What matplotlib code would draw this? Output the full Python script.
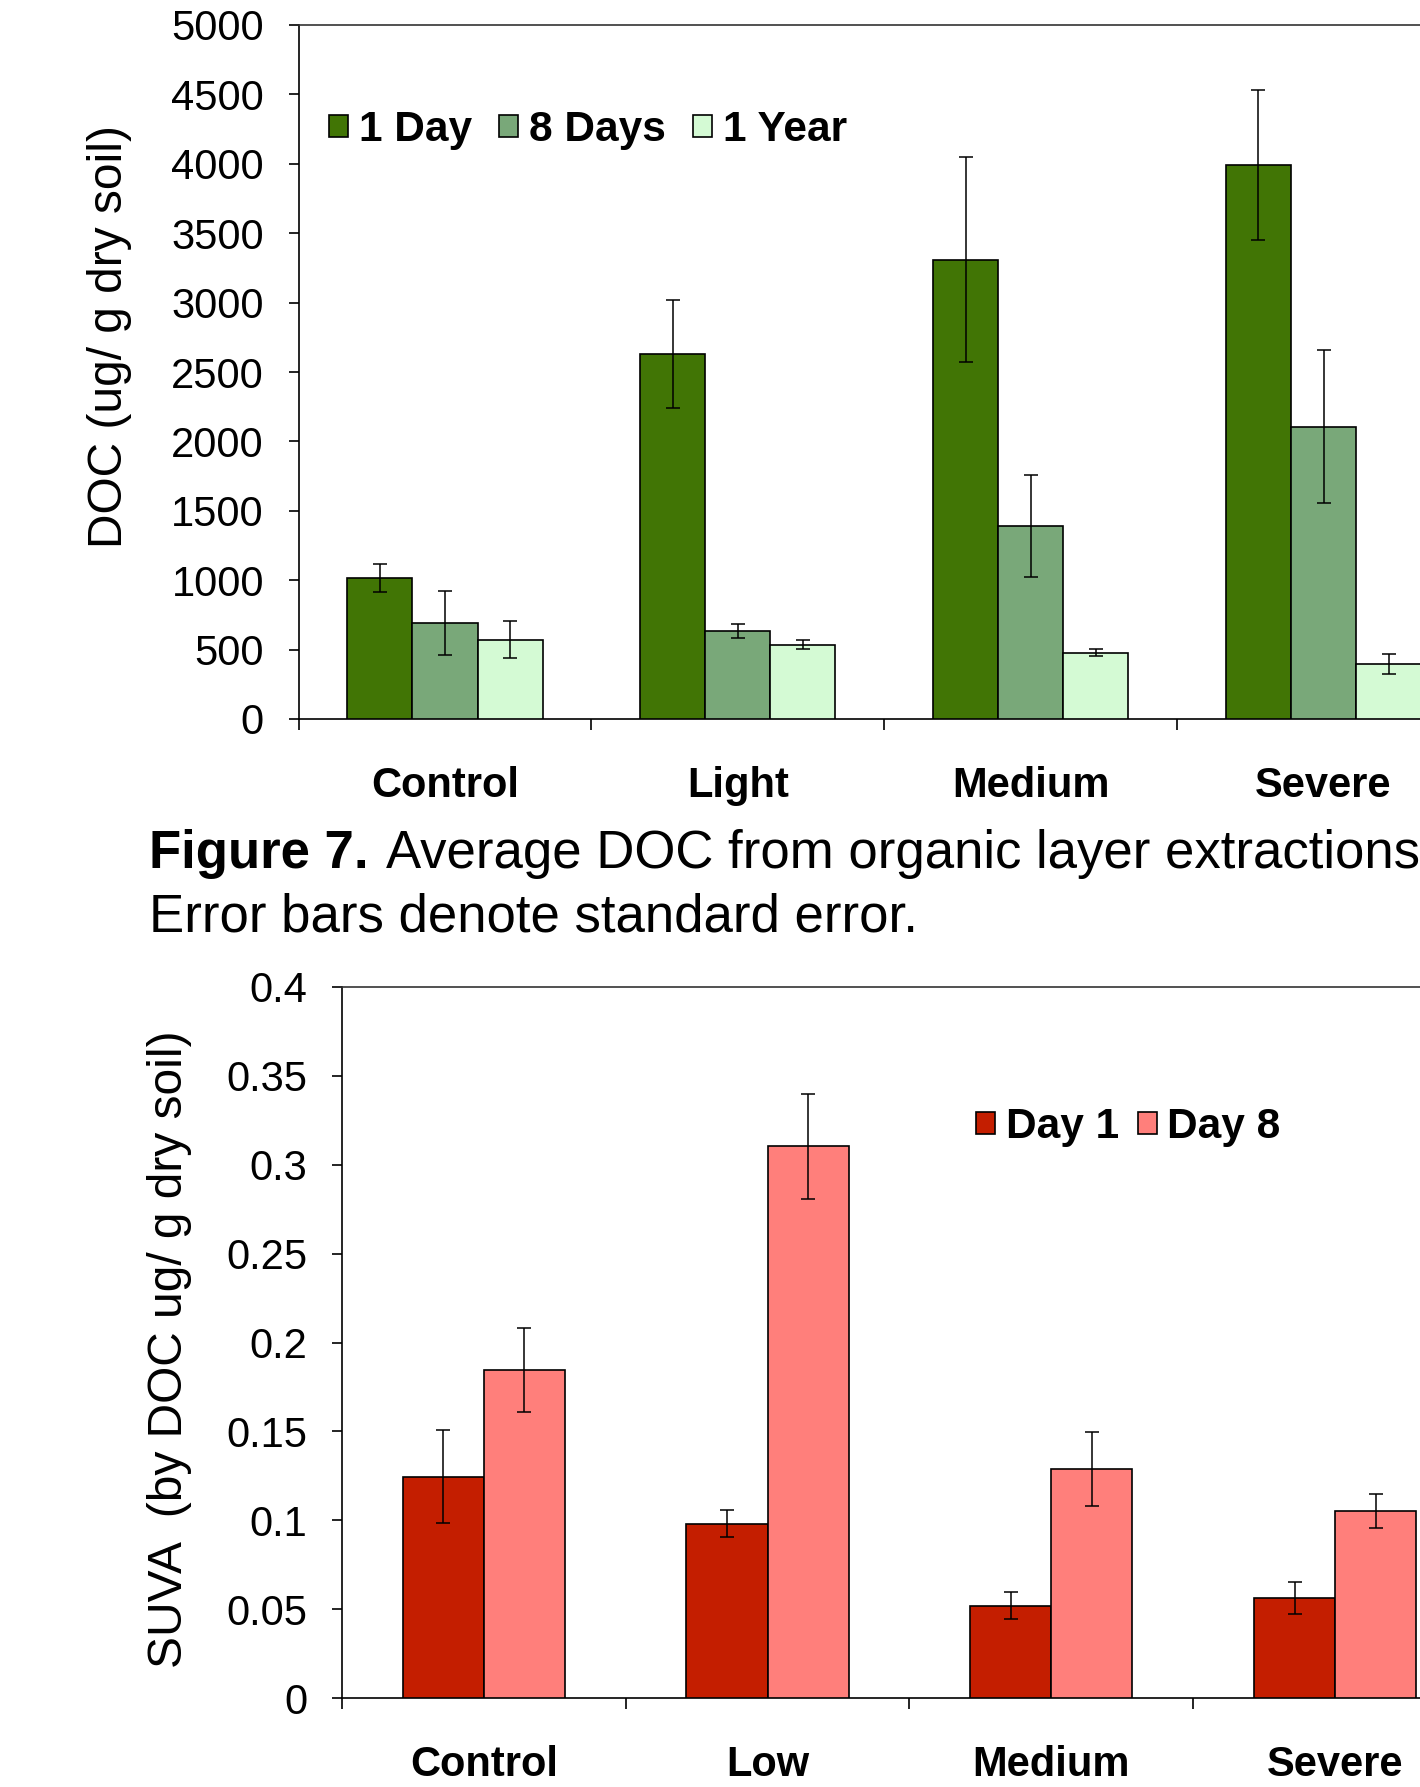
import matplotlib.pyplot as plt
import numpy as np
from matplotlib.ticker import FixedLocator, FuncFormatter, NullFormatter

plt.rcParams["font.family"] = ["Liberation Sans", "DejaVu Sans"]

# ---- data: DOC (top panel) ----
doc_categories = ["Control", "Light", "Medium", "Severe"]
doc_series = ["1 Day", "8 Days", "1 Year"]
doc_1day = [1015, 2630, 3310, 3990]
doc_8days = [690, 632, 1390, 2105]
doc_1year = [572, 534, 476, 394]
doc_1day_se = [100, 390, 740, 540]
doc_8days_se = [230, 50, 370, 550]
doc_1year_se = [135, 33, 25, 72]
doc_colors = ["#417505", "#79A879", "#D4FAD4"]

# ---- data: SUVA (bottom panel) ----
suva_categories = ["Control", "Low", "Medium", "Severe"]
suva_series = ["Day 1", "Day 8"]
suva_day1 = [0.1245, 0.098, 0.052, 0.0565]
suva_day8 = [0.1846, 0.3103, 0.1288, 0.1052]
suva_day1_se = [0.026, 0.0077, 0.0074, 0.009]
suva_day8_se = [0.0235, 0.0295, 0.021, 0.0093]
suva_colors = ["#C41E00", "#FF7F7B"]

W, H = 1420, 1787
fig = plt.figure(figsize=(W / 100, H / 100), dpi=100)


def fx(px):
    return px / W


def fy(py):
    return 1 - py / H


def style_axes(ax, ncat, ylim, yticks, fmt):
    ax.set_xlim(-0.5, ncat - 0.5)
    ax.set_ylim(*ylim)
    for s in ["left", "bottom"]:
        ax.spines[s].set_linewidth(1.2)
        ax.spines[s].set_color("black")
    ax.spines["top"].set_linewidth(1.2)
    ax.spines["top"].set_color("#333333")
    ax.spines["right"].set_linewidth(1.2)
    ax.spines["right"].set_color("#333333")
    ax.set_yticks(yticks)
    ax.yaxis.set_major_formatter(FuncFormatter(fmt))
    ax.tick_params(axis="y", direction="out", length=7, width=1.2, labelsize=30, pad=18)
    # category boundaries as ticks, names centred between them
    ax.xaxis.set_major_locator(FixedLocator(np.arange(ncat + 1) - 0.5))
    ax.xaxis.set_major_formatter(NullFormatter())
    ax.xaxis.set_minor_locator(FixedLocator(np.arange(ncat)))
    ax.tick_params(axis="x", which="major", direction="out", length=8, width=1.2)
    ax.tick_params(axis="x", which="minor", length=0, labelsize=30, pad=34)


def add_errbars(ax, x, y, e):
    ax.errorbar(x, y, yerr=e, fmt="none", ecolor="black", elinewidth=1.1,
                capsize=5, capthick=1.1, zorder=4)


# ---- top panel ----
ax1 = fig.add_axes([fx(298.6), fy(719), fx(1470 - 298.6), (719 - 25) / H])
x = np.arange(len(doc_categories))
w = 1 / 4.5
vals = [doc_1day, doc_8days, doc_1year]
errs = [doc_1day_se, doc_8days_se, doc_1year_se]
for k, (v, e, c, lab) in enumerate(zip(vals, errs, doc_colors, doc_series)):
    xs = x + (k - 1) * w
    ax1.bar(xs, v, width=w, color=c, edgecolor="black", linewidth=1.2, label=lab, zorder=3)
    add_errbars(ax1, xs, v, e)
style_axes(ax1, 4, (0, 5000), np.arange(0, 5001, 500), lambda v, p: f"{v:g}")
ax1.set_xticklabels(doc_categories, minor=True, fontweight="bold")
ax1.legend(loc="center left", bbox_to_anchor=(fx(329), fy(130)), bbox_transform=fig.transFigure,
           ncol=3, frameon=False, prop={"size": 30.5, "weight": "bold"},
           handlelength=0.45, handleheight=0.45, handletextpad=0.25, columnspacing=0.65,
           borderpad=0, borderaxespad=0)
fig.text(fx(110), fy(337), "DOC (ug/ g dry soil)", rotation=90, ha="center", va="center", fontsize=34.5)

# ---- caption ----
fig.text(fx(149), fy(854), "Figure 7.", fontsize=38, fontweight="bold", ha="left", va="center")
fig.text(fx(386), fy(854), "Average DOC from organic layer extractions.", fontsize=38, ha="left", va="center")
fig.text(fx(149), fy(917), "Error bars denote standard error.", fontsize=38, ha="left", va="center")

# ---- bottom panel ----
ax2 = fig.add_axes([fx(341.9), fy(1698), fx(1477 - 341.9), (1698 - 987) / H])
x = np.arange(len(suva_categories))
w = 1 / 3.5
vals = [suva_day1, suva_day8]
errs = [suva_day1_se, suva_day8_se]
for k, (v, e, c, lab) in enumerate(zip(vals, errs, suva_colors, suva_series)):
    xs = x + (k - 0.5) * w
    ax2.bar(xs, v, width=w, color=c, edgecolor="black", linewidth=1.2, label=lab, zorder=3)
    add_errbars(ax2, xs, v, e)
style_axes(ax2, 4, (0, 0.4), np.linspace(0, 0.4, 9), lambda v, p: f"{round(v, 2):g}")
ax2.set_xticklabels(suva_categories, minor=True, fontweight="bold")
ax2.legend(loc="center left", bbox_to_anchor=(fx(976), fy(1127)), bbox_transform=fig.transFigure,
           ncol=2, frameon=False, prop={"size": 30.5, "weight": "bold"},
           handlelength=0.45, handleheight=0.45, handletextpad=0.25, columnspacing=0.45,
           borderpad=0, borderaxespad=0)
fig.text(fx(170), fy(1349), "SUVA  (by DOC ug/ g dry soil)", rotation=90, ha="center", va="center", fontsize=34.5)

fig.savefig("out.png", dpi=100)
